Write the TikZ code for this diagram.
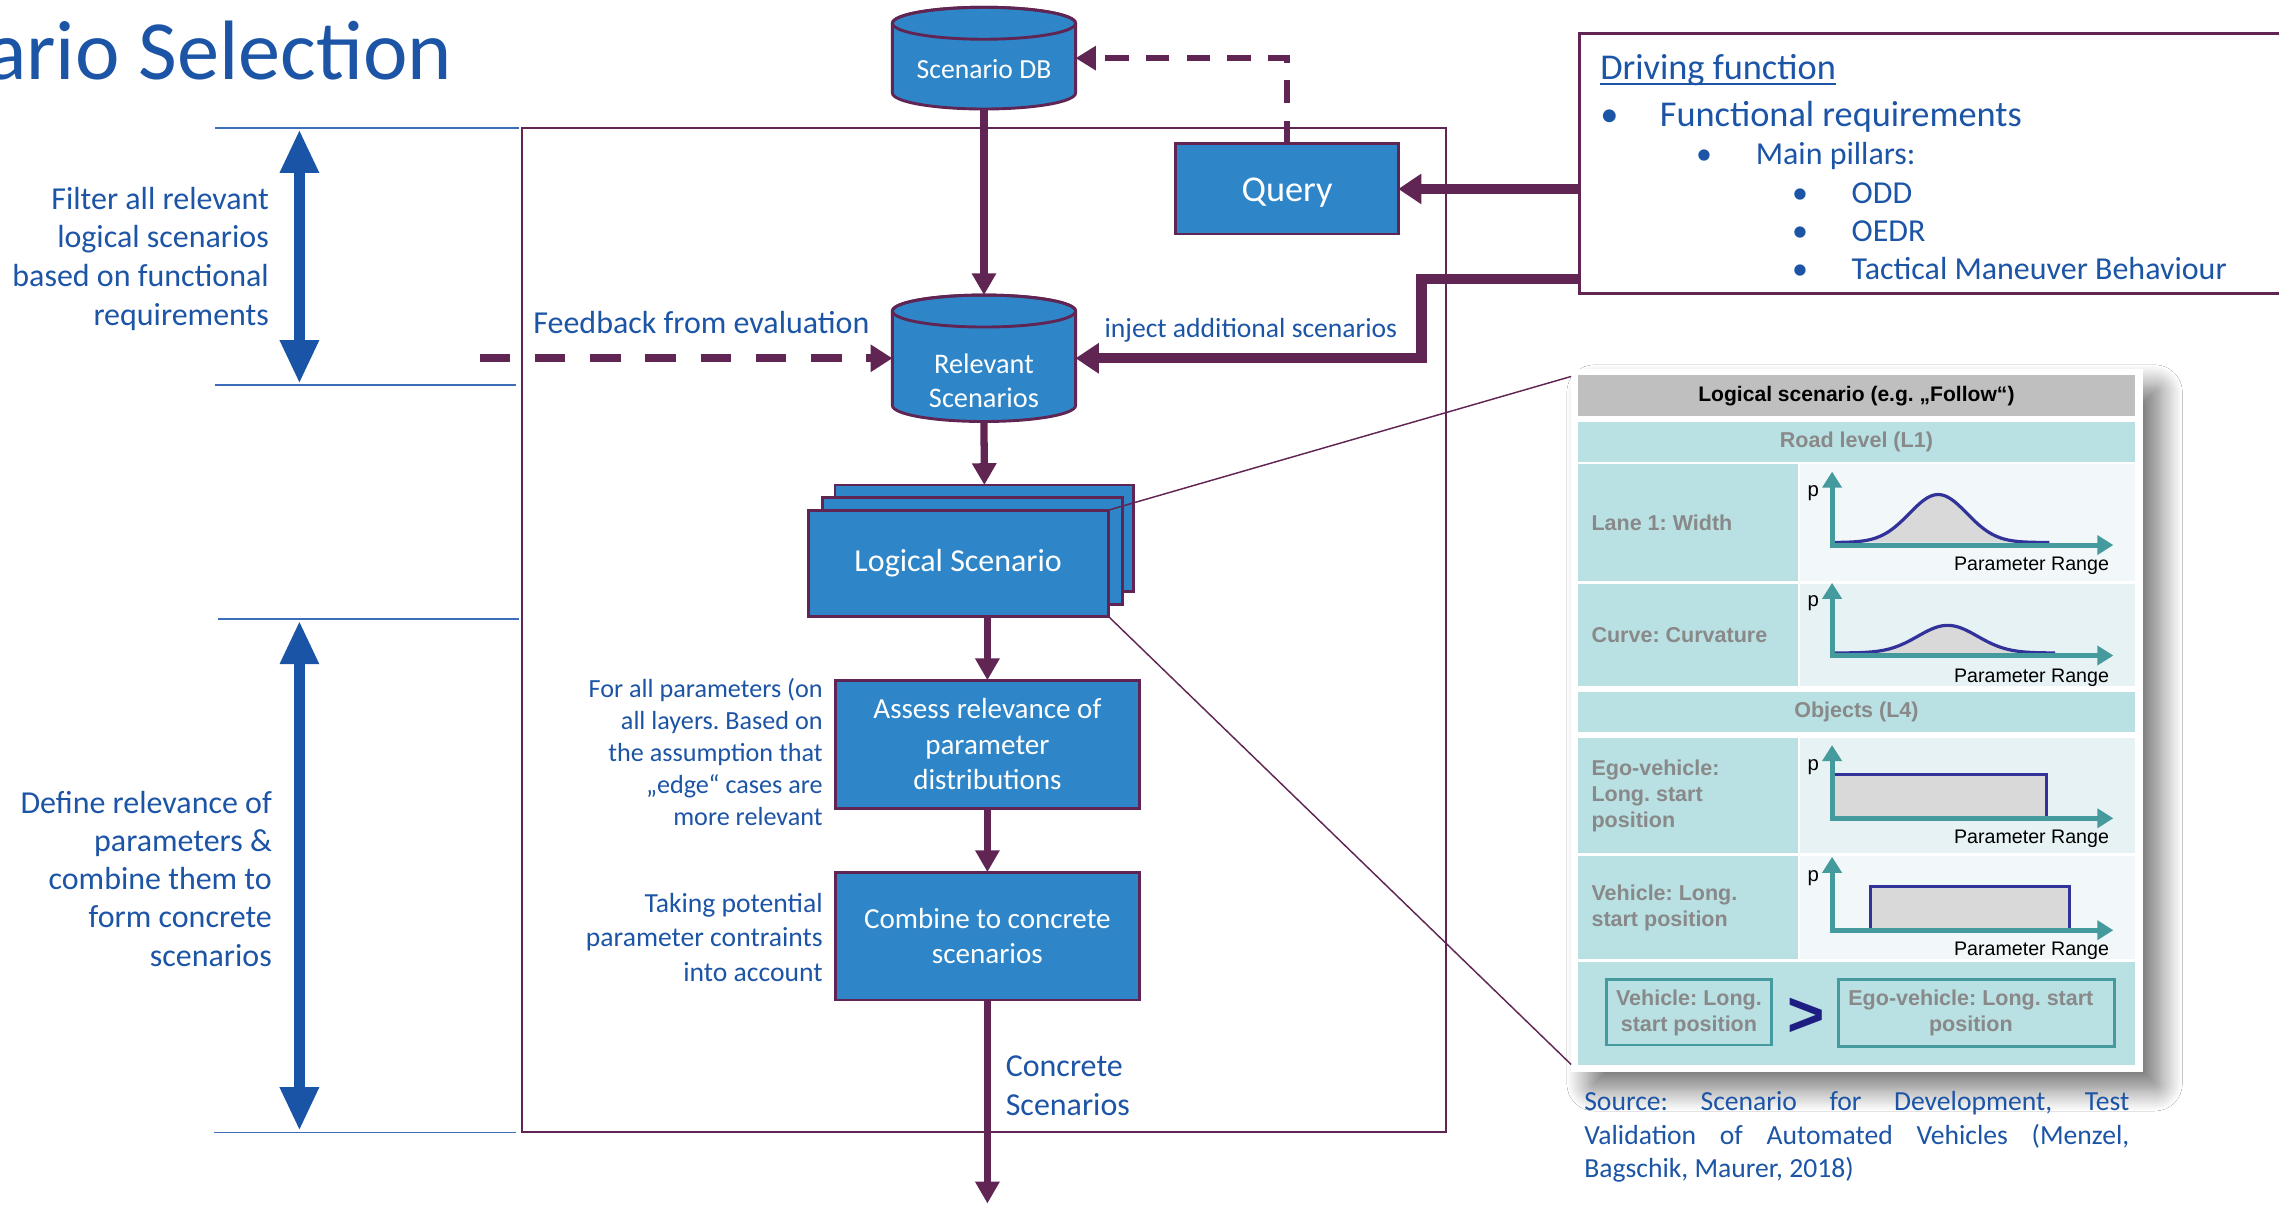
\documentclass[tikz,border=0pt]{standalone}
\usepackage{fontspec}
\setmainfont{Carlito}
\newfontfamily\arialf{Liberation Sans}
\usetikzlibrary{arrows.meta,shadows.blur,calc}

\definecolor{plum}{RGB}{96,37,83}
\definecolor{boxblue}{RGB}{46,134,200}
\definecolor{txtblue}{RGB}{28,84,166}
\definecolor{arrblue}{RGB}{26,84,166}
\definecolor{rulerblue}{RGB}{60,110,185}
\definecolor{tealband}{RGB}{185,224,227}
\definecolor{cellA}{RGB}{242,248,250}
\definecolor{cellB}{RGB}{230,242,244}
\definecolor{hdrgray}{RGB}{191,191,191}
\definecolor{axisteal}{RGB}{69,154,158}
\definecolor{curvenavy}{RGB}{50,50,155}
\definecolor{lblgray}{RGB}{137,137,137}
\definecolor{fillgray}{RGB}{217,217,217}
\definecolor{gtnavy}{RGB}{30,30,130}

\newcommand\fsz[2]{\fontsize{#1}{#2}\selectfont}

% cylinder body: #1 centre x, #2 top y, #3 bottom y, #4 x radius, #5 y radius
\newcommand\drawcyl[5]{%
  \filldraw[draw=plum,line width=2pt,fill=boxblue]
    (#1-#4,#2+#5) -- (#1-#4,#3-#5)
    arc[start angle=180,end angle=0,x radius=#4,y radius=#5]
    -- (#1+#4,#2+#5)
    arc[start angle=0,end angle=-180,x radius=#4,y radius=#5] -- cycle;
  \draw[plum,line width=2pt] (#1,#2+#5) ellipse[x radius=#4,y radius=#5];}

% probability axes: #1 y of horizontal axis, #2 y of vertical arrow tip
\newcommand\plotaxes[2]{%
  \draw[axisteal,line width=3.5pt,-{Triangle[width=13pt,length=11pt]}] (1260.5,#1+1.75) -- (1260.5,#2);
  \draw[axisteal,line width=3.5pt,-{Triangle[width=13pt,length=11pt]}] (1258.75,#1) -- (1454,#1);}

\begin{document}
\frenchspacing
\begin{tikzpicture}[x=1pt,y=-1pt,
  every node/.style={inner sep=0pt,outer sep=0pt},
  flowbox/.style={draw=plum,line width=2pt,fill=boxblue,text=white,align=center},
  flowarrow/.style={draw=plum,line width=5pt,-{Triangle[width=16pt,length=15pt]}},
  feedarrow/.style={draw=plum,line width=7pt,-{Triangle[width=20pt,length=16pt]}},
  dasharrow/.style={draw=plum,line width=5.5pt,dash pattern=on 21pt off 17pt,-{Triangle[width=18pt,length=15pt]}},
  querydash/.style={draw=plum,line width=4.5pt,dash pattern=on 16pt off 12pt,-{Triangle[width=16pt,length=14pt]}},
  bluetext/.style={text=txtblue},
  rulerline/.style={draw=rulerblue,line width=1pt},
  spanarrow/.style={draw=arrblue,line width=8pt,{Triangle[width=25pt,length=30pt]}-{Triangle[width=25pt,length=30pt]}},
  cellhead/.style={font=\arialf\bfseries\fsz{14.8}{18},text=lblgray},
  prange/.style={font=\arialf\fsz{13.5}{15},text=black,anchor=east},
  plabel/.style={font=\arialf\fsz{14}{15},text=black},
  pillar/.style={bluetext,font=\fsz{22}{26},anchor=base west},
]
\useasboundingbox (0,0) rectangle (1568,830);
\fill[white] (0,0) rectangle (1568,830);

% title
\node[text=txtblue,font=\fsz{58}{60},anchor=base east] (title) at (311,54.4) {ario Selection};

% left scale rulers and spans
\draw[rulerline] (148,88) -- (357,88);
\draw[rulerline] (148,265) -- (355,265);
\draw[rulerline] (150,426) -- (357,426);
\draw[rulerline] (147,779) -- (355,779);
\draw[spanarrow] (206,89) -- (206,264);
\draw[spanarrow] (206,427) -- (206,778);

\node[bluetext,font=\fsz{22}{26.5},align=right,anchor=east] (filtertxt) at (185,178)
  {Filter all relevant\\logical scenarios\\based on functional\\requirements};
\node[bluetext,font=\fsz{22}{26.3},align=right,anchor=east] (definetxt) at (187,604.5)
  {Define relevance of\\parameters \&\\combine them to\\form concrete\\scenarios};

% process frame
\draw[plum,line width=1.5pt] (359,88) rectangle (995,779);

% databases
\node[minimum width=126pt,minimum height=70pt] (db) at (677,40) {};
\drawcyl{677}{5}{75}{63}{11}
\node[text=white,font=\fsz{19}{22}] (dblabel) at (677,47.5) {Scenario DB};

\node[minimum width=126pt,minimum height=87pt] (rel) at (677,246.5) {};
\drawcyl{677}{203}{290}{63}{11}
\node[text=white,font=\fsz{19.5}{23},align=center] (rellabel) at (677,262) {Relevant\\Scenarios};

% query and driving function
\node[flowbox,minimum width=153pt,minimum height=62pt,font=\fsz{25}{28}] (query) at (885.5,130) {};
\node[text=white,font=\fsz{25}{28}] (querytxt) at (885.5,132.5) {Query};
\node[draw=plum,line width=2pt,anchor=north west,minimum width=600pt,minimum height=179pt] (df) at (1087,23) {};

\node[bluetext,font=\fsz{25}{28},anchor=base west] (dfhead) at (1101,55) {Driving function};
\draw[txtblue,line width=1.5pt] ([yshift=-3pt]dfhead.base west) -- ([yshift=-3pt]dfhead.base east);
\node[bluetext,font=\fsz{25}{28},anchor=base west] (b1) at (1101,87) {•};
\node[bluetext,font=\fsz{25}{28},anchor=base west] (funcreq) at (1142,87) {Functional requirements};
\node[pillar] (b2) at (1167,113) {•};
\node[pillar] (mainp) at (1208,113) {Main pillars:};
\node[pillar] (b3) at (1233,140) {•};
\node[pillar] (odd) at (1274,140) {ODD};
\node[pillar] (b4) at (1233,166) {•};
\node[pillar] (oedr) at (1274,166) {OEDR};
\node[pillar] (b5) at (1233,192) {•};
\node[pillar] (tmb) at (1274,192) {Tactical Maneuver Behaviour};

% logical scenario stack and process steps
\node[flowbox,minimum width=205.5pt,minimum height=73.3pt] (lsback) at (677.25,370.35) {};
\node[flowbox,minimum width=206pt,minimum height=73.2pt] (lsmid) at (669,379) {};
\node[flowbox,minimum width=206.5pt,minimum height=73pt,font=\fsz{22}{26}] (lsfront) at (659.25,387.5) {Logical Scenario};
\node[flowbox,minimum width=208.7pt,minimum height=88pt,font=\fsz{20}{24.5}] (assess) at (679.35,512)
  {Assess relevance of\\parameter\\distributions};
\node[flowbox,minimum width=208.7pt,minimum height=88pt,font=\fsz{20}{24}] (combine) at (679.35,644)
  {Combine to concrete\\scenarios};

% side notes
\node[bluetext,font=\fsz{22}{26},anchor=west] (feedtxt) at (367,222) {Feedback from evaluation};
\node[bluetext,font=\fsz{19}{22},anchor=west] (injecttxt) at (760,227) {inject additional scenarios};
\node[bluetext,font=\fsz{18}{22},align=right,anchor=east] (assessnote) at (566,517.5)
  {For all parameters (on\\all layers. Based on\\the assumption that\\„edge“ cases are\\more relevant};
\node[bluetext,font=\fsz{19}{23.5},align=right,anchor=east] (combinenote) at (566,645)
  {Taking potential\\parameter contraints\\into account};
\node[bluetext,font=\fsz{22}{27},align=left,anchor=west] (concretetxt) at (692,747) {Concrete\\Scenarios};

% connectors
\coordinate (fbstart) at (330,246.5);
\coordinate (flowout) at (679.35,828);
\draw[flowarrow] (db.south) -- (rel.north);
\draw[querydash] (query.north) |- (db.east);
\draw[feedarrow] (df.west |- query.east) -- (query.east);
\draw[feedarrow] ([yshift=10pt]df.south west) -- ++(-109,0) |- (rel.east);
\draw[dasharrow] (fbstart) -- (rel.west);
\draw[flowarrow] (rel.south) -- (lsback.north);
\draw[flowarrow] (assess.north |- lsfront.south) -- (assess.north);
\draw[flowarrow] (assess.south) -- (combine.north);
\draw[flowarrow] (combine.south) -- (flowout);

% detail panel with its drop shadow
\node[fill=white,minimum width=393.5pt,minimum height=483.4pt,
  blur shadow={shadow xshift=12pt,shadow yshift=-12pt,shadow scale=1,shadow blur radius=15pt,
    shadow blur steps=20,shadow blur extra rounding=4pt,shadow opacity=55}]
  (panel) at (1277.75,495.7) {};
\draw[plum,line width=1pt] (lsfront.north east) -- ([yshift=-5pt]panel.north west);
\draw[plum,line width=1pt] (lsfront.south east) -- ([yshift=5pt]panel.south west);

\fill[hdrgray] (1085.5,258) rectangle (1469,286);
\fill[tealband] (1085.5,290) rectangle (1469,318);
\fill[tealband] (1085.5,319.5) rectangle (1237,400);
\fill[cellA] (1238.5,319.5) rectangle (1469,400);
\fill[tealband] (1085.5,402) rectangle (1237,472);
\fill[cellB] (1238.5,402) rectangle (1469,472);
\fill[tealband] (1085.5,476) rectangle (1469,503.5);
\fill[tealband] (1085.5,508) rectangle (1237,587);
\fill[cellB] (1238.5,508) rectangle (1469,587);
\fill[tealband] (1085.5,589) rectangle (1237,660);
\fill[cellA] (1238.5,589) rectangle (1469,660);
\fill[tealband] (1085.5,661.7) rectangle (1469,732.8);

\node[font=\arialf\bfseries\fsz{14.5}{17}] (tblhead) at (1277.25,272.5) {Logical scenario (e.g. „Follow“)};
\node[cellhead] (roadlvl) at (1277.25,304) {Road level (L1)};
\node[cellhead] (objlvl) at (1277.25,490) {Objects (L4)};
\node[cellhead,anchor=west] (lanelbl) at (1095,360) {Lane 1: Width};
\node[cellhead,anchor=west] (curvelbl) at (1095,437) {Curve: Curvature};
\node[cellhead,anchor=west,align=left] (egolbl) at (1095,547.5) {Ego-vehicle:\\Long. start\\position};
\node[cellhead,anchor=west,align=left] (vehlbl) at (1095,624.5) {Vehicle: Long.\\start position};

% distributions
\fill[fillgray] (1262,373.25) -- plot[domain=1262:1410,samples=90,smooth] (\x,{373.25-33*exp(-((\x-1333.5)/28)^2)}) -- (1410,373.25) -- cycle;
\draw[curvenavy,line width=2.2pt] plot[domain=1262:1410,samples=90,smooth] (\x,{373.25-33*exp(-((\x-1333.5)/28)^2)});
\fill[fillgray] (1262,449.25) -- plot[domain=1262:1414,samples=90,smooth] (\x,{449.25-19*exp(-((\x-1340)/29)^2)}) -- (1414,449.25) -- cycle;
\draw[curvenavy,line width=2.2pt] plot[domain=1262:1414,samples=90,smooth] (\x,{449.25-19*exp(-((\x-1340)/29)^2)});
\fill[fillgray] (1262,561.25) rectangle (1408,533);
\draw[curvenavy,line width=2.2pt] (1262,533) -- (1408,533) -- (1408,561.25);
\fill[fillgray] (1287,638.25) rectangle (1424,610);
\draw[curvenavy,line width=2.2pt] (1287,638.25) -- (1287,610) -- (1424,610) -- (1424,638.25);

\plotaxes{375}{324.5}
\plotaxes{451}{401}
\plotaxes{563}{512.6}
\plotaxes{640}{589.5}

\node[plabel] (p1) at (1247.5,339) {p};
\node[plabel] (p2) at (1247.5,415) {p};
\node[plabel] (p3) at (1247.5,527.5) {p};
\node[plabel] (p4) at (1247.5,604) {p};
\node[prange] (r1) at (1451,389.5) {Parameter Range};
\node[prange] (r2) at (1451,466.5) {Parameter Range};
\node[prange] (r3) at (1451,577.4) {Parameter Range};
\node[prange] (r4) at (1451,654.4) {Parameter Range};

% constraint between the two start positions
\node[draw=axisteal,line width=2pt,minimum width=114pt,minimum height=45pt] (cmpleft) at (1162,696.5) {};
\node[cellhead,align=center] (cmplefttxt) at (1162,697) {Vehicle: Long.\\start position};
\node[text=gtnavy,font=\arialf\bfseries\fsz{44}{44}] (cmpgt) at (1242.6,700) {>};
\node[draw=axisteal,line width=2pt,minimum width=190pt,minimum height=46pt] (cmpright) at (1360,697) {};
\node[cellhead,align=center] (cmprighttxt) at (1356,697) {Ego-vehicle: Long. start\\position};

% source
\node[bluetext,font=\fsz{19}{23},text width=375pt,align=justify,anchor=north west] (source) at (1090,751)
  {Source: Scenario for Development, Test\linebreak Validation of Automated Vehicles (Menzel,\linebreak Bagschik, Maurer, 2018)};
\end{tikzpicture}
\end{document}
